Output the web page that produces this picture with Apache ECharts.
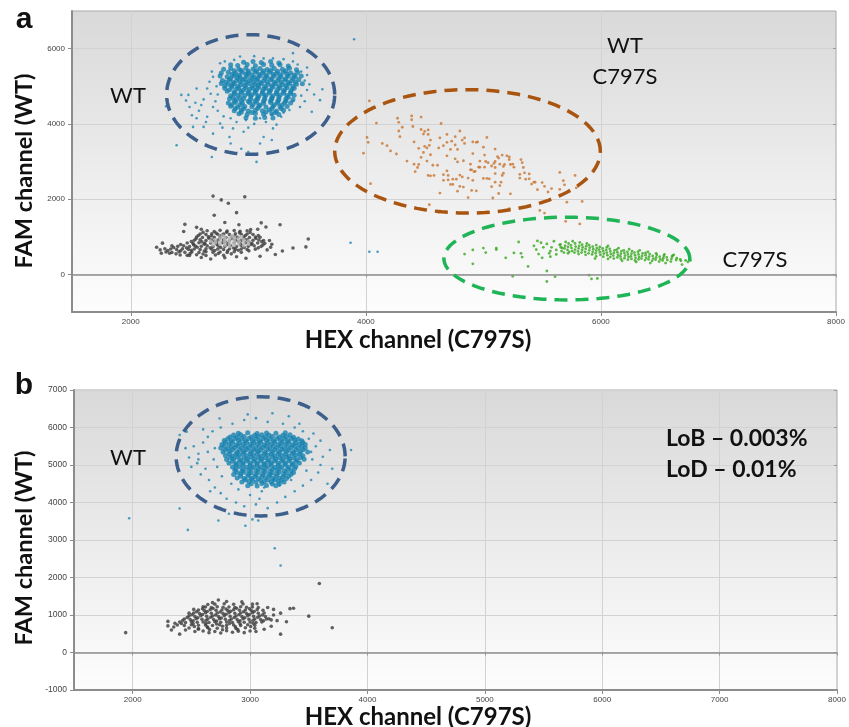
<!DOCTYPE html>
<html>
<head>
<meta charset="utf-8">
<script src="https://cdn.jsdelivr.net/npm/echarts@6/dist/echarts.min.js"></script>
<style>
  html, body { margin: 0; padding: 0; background: #fff; }
  #chart { width: 849px; height: 727px; }
</style>
</head>
<body>
<div id="chart"></div>
<script>
// ---- panel a : HEX (x) vs FAM (y) droplet amplitudes ----
const xTicksA = [2000, 4000, 6000, 8000];
const yTicksA = [0, 2000, 4000, 6000];
const xTicksB = [2000, 3000, 4000, 5000, 6000, 7000, 8000];

// WT droplets (blue), dense core
const wtCoreA = [
  [2960,5640],[3040,5660],[3110,5630],[3190,5655],[3260,5620],
  [2850,5570],[2910,5550],[2990,5575],[3060,5545],[3130,5580],[3200,5555],[3270,5570],[3340,5540],
  [2790,5450],[2850,5470],[2920,5455],[2980,5480],[3040,5450],[3100,5475],[3160,5445],[3220,5470],[3290,5455],[3350,5480],[3410,5440],
  [2770,5350],[2830,5375],[2890,5345],[2950,5370],[3000,5350],[3060,5380],[3120,5355],[3180,5370],[3240,5345],[3300,5375],[3360,5350],[3420,5365],
  [2760,5270],[2820,5250],[2880,5275],[2930,5255],[2990,5265],[3050,5245],[3100,5270],[3160,5250],[3220,5275],[3280,5255],[3340,5265],[3400,5250],[3450,5270],
  [2780,5150],[2840,5170],[2900,5155],[2950,5175],[3010,5150],[3070,5165],[3130,5145],[3190,5170],[3250,5155],[3310,5165],[3370,5150],[3430,5170],
  [2770,5070],[2830,5050],[2880,5065],[2940,5045],[3000,5070],[3060,5055],[3110,5075],[3170,5050],[3230,5065],[3290,5045],[3350,5070],[3410,5055],[3460,5065],
  [2800,4950],[2860,4975],[2920,4955],[2980,4970],[3040,4945],[3090,4965],[3150,4950],[3210,4975],[3270,4955],[3330,4970],[3390,4945],
  [2820,4870],[2880,4850],[2940,4865],[3000,4845],[3060,4870],[3120,4855],[3180,4875],[3240,4850],[3300,4865],[3360,4855],
  [2850,4750],[2910,4770],[2970,4755],[3030,4775],[3090,4750],[3150,4765],[3210,4745],[3270,4770],[3330,4755],[3390,4760],
  [2840,4670],[2900,4650],[2960,4665],[3020,4645],[3080,4670],[3140,4655],[3200,4660],[3260,4645],[3320,4665],[3380,4650],
  [2830,4555],[2890,4570],[2950,4550],[3010,4565],[3070,4575],[3130,4550],[3190,4565],[3250,4550],[3310,4570],[3360,4555],
  [2850,4470],[2910,4450],[2970,4465],[3030,4455],[3090,4470],[3150,4450],[3210,4465],[3270,4455],[3330,4460],
  [2880,4350],[2940,4370],[3000,4345],[3060,4365],[3120,4350],[3180,4370],[3240,4345],[3300,4360],
  [2920,4270],[2990,4250],[3060,4275],[3130,4255],[3200,4270],[3260,4250],
  [2980,4160],[3060,4150],[3140,4170],[3210,4155],
  [2880,5410],[2940,5420],[3000,5400],[3070,5415],[3130,5405],[3190,5420],[3250,5400],[3320,5415],
  [2860,5310],[2920,5300],[2980,5320],[3030,5305],[3090,5315],[3150,5300],[3210,5320],[3270,5305],[3330,5315],[3390,5300],
  [2850,5205],[2910,5220],[2970,5200],[3030,5215],[3080,5205],[3140,5220],[3200,5205],[3260,5215],[3320,5200],[3380,5215],
  [2810,5110],[2870,5100],[2930,5120],[2980,5105],[3040,5115],[3100,5100],[3160,5120],[3220,5105],[3280,5115],[3340,5100],[3400,5110],
  [2800,5005],[2860,5020],[2910,5000],[2970,5015],[3030,5005],[3080,5020],[3140,5000],[3200,5015],[3260,5005],[3320,5020],[3380,5000],
  [2840,4910],[2900,4920],[2960,4900],[3010,4915],[3070,4905],[3130,4920],[3190,4900],[3250,4915],[3310,4905],[3370,4915],
  [2880,4805],[2940,4820],[3000,4800],[3060,4815],[3120,4805],[3180,4820],[3240,4800],[3300,4815],[3360,4810],
  [2870,4710],[2930,4700],[3020,4720],[3080,4705],[3140,4715],[3200,4700],[3260,4710],[3340,4705],
  [2880,4610],[2940,4600],[3000,4600],[3060,4620],[3130,4605],[3190,4615],[3250,4600],[3320,4610],
  [2860,4510],[2930,4505],[3040,4515],[3100,4500],[3220,4510],[3290,4505],
  [2890,4410],[2960,4400],[3080,4415],[3200,4405],[3280,4410],
  [2940,4310],[3030,4300],[3150,4315],[3230,4305]
];
// WT droplets (blue), sparse
const wtHaloA = [
  [2390,3430],[2430,4770],[2490,4770],[2560,4940],[2500,4450],[2520,4230],[2600,4500],[2530,3920],[2620,3920],
  [2650,4190],[2690,3120],[2700,3740],[2760,4010],[2840,3650],[2870,3880],[2960,3790],[2940,3340],[3070,2990],
  [3000,3250],[3100,3480],[3130,3650],[3200,3570],[3210,3880],[3280,4190],[3350,4370],[3440,4450],[3540,4320],
  [3610,4630],[3630,4920],[3500,5300],[3450,5390],[3380,5660],[3380,5880],[3210,5740],[3130,5740],[2930,5790],
  [2800,5660],[2760,5610],[2690,5390],[2670,5120],[2650,4940],[3900,6250],[2300,4470],
  [2720,4600],[2740,4350],[2790,4200],[2850,4150],[2900,4050],[2980,4100],[3050,4000],[3100,4150],[3200,4250],
  [3300,4300],[3380,4600],[3450,4750],[3500,4900],[3520,5050],[3480,5150],[3500,5500],[3420,5580],[3300,5720],
  [3050,5800],[2880,5700],[2700,5250],[2680,4800],[2620,4650],[2580,4350],[2640,4050],[2780,3900],[2700,4450],
  [2740,4780],[2730,5000],[3000,3900],[3150,4050],[2560,4150],[3560,4780],[3480,4600],[3240,3980],[2850,3480],
  [2470,4620],[2550,4560],[3870,840],[4030,600],[4100,600]
];
// double negative droplets (black)
const negA = [
  [2650,1160],[2710,1140],[2760,1170],[2820,1150],[2880,1165],[2930,1145],[2990,1160],
  [2590,1075],[2640,1060],[2690,1080],[2740,1065],[2790,1075],[2840,1060],[2890,1080],[2940,1065],[2990,1075],[3040,1060],
  [2560,995],[2610,980],[2660,1000],[2710,985],[2760,995],[2810,980],[2860,1000],[2910,985],[2960,995],[3010,980],[3060,995],[3100,985],
  [2540,905],[2590,920],[2640,900],[2690,915],[2740,905],[2790,920],[2840,900],[2890,915],[2940,905],[2990,920],[3040,905],[3090,915],[3130,900],
  [2480,835],[2530,820],[2580,840],[2630,825],[2680,835],[2730,820],[2780,840],[2830,825],[2880,835],[2930,820],[2980,840],[3030,825],[3080,835],[3140,825],
  [2400,745],[2450,760],[2500,740],[2550,755],[2600,745],[2650,760],[2700,740],[2750,755],[2800,745],[2850,760],[2900,740],[2950,755],[3000,745],[3050,760],[3110,745],
  [2340,675],[2390,660],[2440,680],[2490,665],[2540,675],[2590,660],[2640,680],[2690,665],[2740,675],[2790,660],[2840,680],[2890,665],[2940,675],[2990,660],[3060,670],
  [2300,595],[2350,580],[2410,600],[2460,585],[2520,595],[2580,580],[2640,600],[2700,585],[2760,595],[2820,580],[2880,600],[2940,585],
  [2420,515],[2480,505],[2560,520],[2640,500],[2720,515],[2790,505],
  [2615,1115],[2725,1100],[2815,1120],[2925,1105],[3015,1115],[2575,1035],[2685,1025],[2775,1040],[2885,1020],[2975,1035],[3085,1030],
  [2555,945],[2665,960],[2755,940],[2865,955],[2965,945],[3065,955],[2515,875],[2605,865],[2715,880],[2805,860],[2915,875],[3005,865],[3115,870],
  [2425,795],[2535,785],[2625,800],[2735,785],[2825,795],[2935,780],[3025,795],[3125,785],[2365,715],[2475,705],[2565,720],[2675,705],
  [2765,715],[2875,700],[2965,715],[3085,705],[2315,635],[2425,625],[2515,640],[2625,620],[2715,635],[2825,625],[2915,640],[3005,625],
  [2385,545],[2505,555],[2615,540],[2745,555],[2855,545],
  [2700,2080],[2770,1980],[2830,1890],[2970,2060],[2710,1570],[2900,1640],[2800,1380],[2920,1320],[2460,1330],[2450,1140],
  [3110,1370],[3150,1260],[3270,1320],[3020,1190],[3510,940],[3490,730],[3380,700],[3290,620],[3230,530],[3190,720],
  [2270,830],[2250,650],[2290,680],[2980,430],[2680,410],[2500,500],[3180,900],[3200,800],[3160,650],[2350,760],
  [2330,560],[2600,1200],[2560,1250],[3080,1200],[3100,480],[2900,470],[2800,440],[2600,450],[2220,720],[2260,560]
];
// bright centre of the negative cloud
const negCoreA = [
  [2680,880],[2720,920],[2720,840],[2760,960],[2760,880],[2760,800],[2800,990],[2800,920],[2800,850],[2800,780],
  [2840,960],[2840,890],[2840,820],[2840,750],[2880,990],[2880,920],[2880,850],[2880,780],[2920,960],[2920,880],
  [2920,810],[2960,930],[2960,850],[2960,770],[3000,880],[3000,810],[2700,790],[2780,1020],[2860,1020],[2940,1000]
];
// WT + C797S droplets (orange)
const dpA = [
  [4030,4610],[4090,4020],[4010,3640],[4020,3510],[3980,3220],[4040,2410],[4140,3480],[4180,3420],[4210,3280],[4260,3200],
  [4270,4150],[4280,4040],[4310,3910],[4290,3660],[4280,3810],[4390,4210],[4390,4110],[4400,3930],[4470,4180],[4470,3850],
  [4500,3800],[4530,3840],[4490,3730],[4530,3720],[4550,3570],[4540,3430],[4500,3400],[4450,3350],[4470,3110],[4410,3520],
  [4350,3010],[4410,2930],[4450,2920],[4420,2730],[4440,2840],[4520,3010],[4530,2630],[4550,2620],[4570,2900],[4610,2900],
  [4630,3630],[4620,3360],[4640,4010],[4660,3420],[4690,3720],[4690,3510],[4690,3150],[4720,3320],[4730,3540],[4760,3660],
  [4760,3440],[4780,3320],[4800,3810],[4820,3570],[4840,3630],[4840,3480],[4830,3020],[4780,2990],[4760,3070],[4690,2750],
  [4660,2650],[4700,2630],[4740,2530],[4740,2390],[4770,2530],[4800,2640],[4820,2590],[4830,2320],[4870,2560],[4890,2930],
  [4890,2780],[4910,3520],[4950,3520],[4970,3010],[4970,2850],[4930,2740],[4910,3210],[5000,3380],[5030,3640],[5010,3170],
  [5040,2970],[5020,3000],[5070,2880],[5090,2950],[5100,3000],[5100,2840],[5100,3330],[5120,3130],[5130,3090],[5140,2930],
  [5160,3170],[5170,2870],[5180,2920],[5200,3150],[5220,3120],[5230,2920],[5250,2930],[5260,2850],[5220,3050],[5170,2690],
  [5160,2630],[5100,2680],[5100,2450],[5140,2360],[5150,2450],[5230,2140],[5130,2150],[5080,2030],[5050,2540],[5000,2550],
  [5030,2550],[5010,2850],[4960,2850],[4920,2730],[4900,2780],[4940,2220],[4900,2230],[4870,2040],[4780,2210],[4630,2160],
  [4540,1850],[4620,1650],[4580,2630],[4660,2500],[4700,2510],[4720,2390],[5320,3050],[5330,2970],[5340,2840],[5350,2700],
  [5310,2660],[5310,2560],[5360,2530],[5390,2670],[5390,2540],[5410,2400],[5430,2450],[5460,2250],[5440,2450],[5500,2440],
  [5520,2340],[5550,2190],[5580,2280],[5650,2710],[5680,2490],[5690,2380],[5650,2260],[5710,1920],[5780,2630],[5790,2300],
  [5840,1940],[5480,1700],[5520,1630],[5700,1410],[5820,1340],[5220,1750],[4940,3510],[4910,2500],[5070,2330],[4800,2340],
  [4550,3180],[4520,3360],[4490,3240]
];
// C797S droplets (green)
const mutA = [
  [5660,720],[5655,800],[5665,620],[5690,690],[5695,760],[5685,580],[5720,730],[5715,650],[5725,820],[5720,560],
  [5750,700],[5755,620],[5745,770],[5780,660],[5785,740],[5775,580],[5780,820],[5810,690],[5805,610],[5815,760],[5810,540],
  [5840,650],[5845,720],[5835,580],[5840,790],[5870,680],[5865,600],[5875,750],[5870,520],[5900,640],[5905,710],[5895,560],[5900,780],
  [5930,600],[5935,670],[5925,530],[5930,740],[5960,630],[5965,700],[5955,560],[5960,480],[5990,590],[5985,660],[5995,520],[5990,730],
  [6020,620],[6025,550],[6015,690],[6020,470],[6050,580],[6045,650],[6055,510],[6050,720],[6080,610],[6085,540],[6075,680],[6080,460],
  [6110,570],[6105,500],[6115,640],[6110,420],[6140,590],[6145,520],[6135,660],[6140,450],[6170,550],[6165,480],[6175,620],[6170,410],
  [6200,570],[6205,500],[6195,640],[6200,430],[6230,530],[6235,460],[6225,600],[6230,390],[6260,550],[6255,480],[6265,620],[6260,410],
  [6290,510],[6295,440],[6285,580],[6290,370],[6320,530],[6325,460],[6315,600],[6320,400],[6350,490],[6345,420],[6355,560],
  [6380,510],[6385,440],[6375,380],[6380,570],[6410,470],[6405,400],[6415,540],[6440,490],[6445,420],[6435,360],
  [6470,450],[6465,390],[6475,520],[6500,470],[6505,400],[6495,340],[6530,430],[6525,370],[6535,490],[6560,450],[6565,380],
  [6600,410],[6595,340],[6605,470],[6640,380],[6645,430],[6680,360],[6675,400],[6720,370],
  [5700,860],[5760,880],[5820,850],[5730,600],[5880,820],[5960,780],[6060,760],[6150,700],[6240,670],[6330,640],
  [6400,600],[6470,560],[6540,530],[6610,500],[5950,420],[6060,410],[6180,360],[6300,330],[6420,300],[6550,300],
  [4840,540],[4910,650],[4910,280],[5000,700],[5020,580],[5110,700],[5110,660],[5190,440],[5260,570],[5300,860],
  [5320,560],[5330,460],[5380,210],[5250,-50],[5540,90],[5540,-190],[5610,-60],[5900,-20],[5920,-120],[5970,-110],
  [5460,890],[5430,760],[5450,660],[5490,840],[5500,440],[5570,470],[5470,540],[5510,720],[5540,810],[5580,720],
  [5620,650],[5650,780],[5670,700],[5570,620],[5620,530],[6740,330],[6690,260],[6760,370],[6620,520],[5600,880],[5560,560]
];

// ---- panel b ----
const wtCoreB = [
  [2900,5850],[2980,5860],[3060,5840],[3140,5855],[3220,5845],[3300,5860],
  [2830,5750],[2890,5740],[2950,5760],[3010,5745],[3070,5755],[3130,5740],[3190,5760],[3250,5745],[3310,5755],[3370,5740],
  [2780,5655],[2840,5640],[2900,5660],[2960,5645],[3020,5655],[3080,5640],[3140,5660],[3200,5645],[3260,5655],[3320,5640],[3380,5660],[3440,5645],
  [2760,5545],[2820,5560],[2880,5540],[2940,5555],[3000,5545],[3060,5560],[3120,5540],[3180,5555],[3240,5545],[3300,5560],[3360,5540],[3420,5555],[3470,5545],
  [2750,5455],[2810,5440],[2870,5460],[2930,5445],[2990,5455],[3050,5440],[3110,5460],[3170,5445],[3230,5455],[3290,5440],[3350,5460],[3410,5445],[3470,5455],
  [2770,5345],[2830,5360],[2890,5340],[2950,5355],[3010,5345],[3070,5360],[3130,5340],[3190,5355],[3250,5345],[3310,5360],[3370,5340],[3430,5355],[3490,5345],
  [2790,5255],[2850,5240],[2910,5260],[2970,5245],[3030,5255],[3090,5240],[3150,5260],[3210,5245],[3270,5255],[3330,5240],[3390,5260],[3450,5245],
  [2800,5145],[2860,5160],[2920,5140],[2980,5155],[3040,5145],[3100,5160],[3160,5140],[3220,5155],[3280,5145],[3340,5160],[3400,5140],[3460,5155],
  [2820,5055],[2880,5040],[2940,5060],[3000,5045],[3060,5055],[3120,5040],[3180,5060],[3240,5045],[3300,5055],[3360,5040],[3420,5055],
  [2850,4945],[2910,4960],[2970,4940],[3030,4955],[3090,4945],[3150,4960],[3210,4940],[3270,4955],[3330,4945],[3390,4960],
  [2870,4855],[2930,4840],[2990,4860],[3050,4845],[3110,4855],[3170,4840],[3230,4860],[3290,4845],[3350,4855],
  [2860,4745],[2920,4760],[2990,4760],[3050,4740],[3110,4755],[3170,4745],[3230,4760],[3290,4745],[3350,4755],
  [2890,4655],[2950,4640],[3010,4650],[3070,4640],[3130,4660],[3190,4645],[3250,4655],[3310,4640],
  [2930,4550],[2990,4560],[3050,4545],[3120,4555],[3180,4545],[3240,4560],[3290,4550],
  [2980,4450],[3060,4440],[3140,4455],[3220,4445],
  [2860,5800],[2920,5805],[3040,5795],[3100,5810],[3160,5800],[3280,5795],[3340,5805],
  [2810,5700],[2870,5710],[2930,5695],[2990,5705],[3050,5700],[3110,5710],[3170,5695],[3230,5705],[3290,5700],[3350,5710],[3410,5695],
  [2790,5600],[2850,5610],[2910,5595],[2970,5605],[3030,5600],[3090,5610],[3150,5595],[3210,5605],[3270,5600],[3330,5610],[3390,5595],[3450,5600],
  [2780,5500],[2840,5495],[2900,5510],[2960,5500],[3020,5505],[3080,5495],[3140,5510],[3200,5500],[3260,5505],[3320,5495],[3380,5510],[3440,5500],
  [2790,5400],[2850,5405],[2910,5395],[2970,5410],[3030,5400],[3090,5395],[3150,5405],[3210,5400],[3270,5410],[3330,5395],[3390,5400],[3450,5405],
  [2820,5300],[2880,5295],[2940,5305],[3000,5300],[3060,5310],[3120,5295],[3180,5300],[3240,5305],[3300,5295],[3360,5310],[3420,5300],
  [2830,5200],[2890,5205],[2950,5195],[3010,5210],[3070,5200],[3130,5195],[3190,5205],[3250,5200],[3310,5210],[3370,5195],[3430,5200],
  [2850,5100],[2910,5095],[2970,5110],[3030,5100],[3090,5105],[3150,5095],[3210,5110],[3270,5100],[3330,5105],[3390,5095],
  [2880,5000],[2940,5010],[3000,4995],[3060,5005],[3120,5000],[3180,5010],[3240,4995],[3300,5005],[3360,5000],
  [2880,4900],[2940,4895],[3010,4910],[3070,4900],[3130,4905],[3190,4895],[3250,4910],[3320,4900],[3380,4905],
  [2890,4800],[2950,4805],[3010,4795],[3070,4800],[3130,4810],[3190,4795],[3250,4805],[3310,4800],[3370,4800],
  [2920,4700],[2980,4705],[3040,4695],[3100,4700],[3160,4710],[3220,4700],[3280,4695],[3330,4700],
  [2960,4600],[3020,4605],[3090,4595],[3150,4600],[3210,4605],[3270,4600],
  [3010,4500],[3100,4505],[3190,4495],[3250,4500]
];
const wtHaloB = [
  [1970,3580],[2400,3840],[2470,3270],[2730,3520],[2960,3380],[3020,3550],[3860,5400],[3620,5220],[3540,5840],[3190,6380],
  [2740,6240],[2400,5800],[2460,5890],[3210,2780],[3260,2320],
  [2520,5500],[2560,5300],[2600,5600],[2480,5200],[2550,5050],[2620,4900],[2580,4750],[2650,4600],[2700,4400],[2750,4250],
  [2800,4100],[2880,4000],[2950,3900],[3050,3950],[3150,3850],[3230,4000],[3300,4150],[3380,4300],[3450,4450],[3520,4600],
  [3580,4800],[3600,5000],[3560,5500],[3500,5700],[3450,5900],[3380,6000],[3280,6100],[3150,6150],[3050,6250],[2950,6200],
  [2850,6100],[2750,6000],[2680,5900],[2640,5750],[2700,5450],[2690,5150],[2720,4950],[2760,4700],[2840,4500],[2900,4350],
  [3000,4200],[3080,4100],[3120,4400],[3250,4450],[3350,4600],[3480,4850],[3530,5150],[3520,5350],[3600,5650],[3680,5400],
  [2600,5950],[2560,5150],[2640,5350],[2660,4300],[2820,3700],[3070,3520],[3100,4300],[3200,4600],[2980,6350],[3330,6300],
  [3420,6100],[2450,5450],[2500,4950],[3700,4900],[3660,4500]
];
const negB = [
  [2700,1290],[2780,1300],[2860,1285],[2940,1295],[3020,1290],
  [2620,1215],[2670,1200],[2720,1220],[2770,1205],[2820,1215],[2870,1200],[2920,1220],[2970,1205],[3020,1215],[3070,1200],
  [2560,1135],[2610,1120],[2660,1140],[2710,1125],[2760,1135],[2810,1120],[2860,1140],[2910,1125],[2960,1135],[3010,1120],[3060,1140],[3110,1125],
  [2520,1055],[2570,1040],[2620,1060],[2670,1045],[2720,1055],[2770,1040],[2820,1060],[2870,1045],[2920,1055],[2970,1040],[3020,1060],[3070,1045],[3120,1055],
  [2480,975],[2530,960],[2580,980],[2630,965],[2680,975],[2730,960],[2780,980],[2830,965],[2880,975],[2930,960],[2980,980],[3030,965],[3080,975],[3130,960],
  [2440,895],[2490,880],[2540,900],[2590,885],[2640,895],[2690,880],[2740,900],[2790,885],[2840,895],[2890,880],[2940,900],[2990,885],[3040,895],[3090,880],[3140,895],
  [2400,815],[2450,800],[2500,820],[2550,805],[2600,815],[2650,800],[2700,820],[2750,805],[2800,815],[2850,800],[2900,820],[2950,805],[3000,815],[3050,800],[3100,815],
  [2380,735],[2440,720],[2500,740],[2560,725],[2620,735],[2680,720],[2740,740],[2800,725],[2860,735],[2920,720],[2980,740],[3040,725],
  [2480,655],[2560,640],[2640,660],[2720,645],[2800,655],[2880,640],[2960,660],[3040,645],
  [2600,575],[2700,560],[2800,580],[2900,565],[3000,575],
  [2595,1165],[2685,1175],[2795,1160],[2885,1180],[2995,1165],[2545,1085],[2635,1095],[2745,1080],[2835,1100],[2945,1085],[3035,1095],
  [2505,1005],[2595,1015],[2705,1000],[2795,1020],[2905,1005],[2995,1015],[3105,1000],[2465,935],[2555,925],[2665,940],[2755,920],
  [2865,935],[2955,925],[3065,940],[2425,855],[2515,845],[2625,860],[2715,840],[2825,855],[2915,845],[3025,860],[3115,845],
  [2415,775],[2515,765],[2625,780],[2715,760],[2825,775],[2915,765],[3025,780],[2525,695],[2635,685],[2765,700],[2875,685],[3005,695],
  [2655,615],[2765,605],[2895,615],
  [2300,710],[2400,490],[2360,780],[2600,1220],[2680,1330],[2730,1400],[2930,1350],[3160,900],[3180,870],[3260,1050],
  [3310,820],[3340,1170],[3370,1180],[3500,970],[3700,660],[3260,490],[3590,1840],[1940,530],[2330,600],[2300,830],
  [2350,680],[2450,600],[2530,560],[3150,1200],[3200,1000],[3180,700],[3120,620],[3050,560],[2950,530],[2850,540],
  [2750,520],[2650,530],[2560,620],[2480,1050],[2520,1150],[2640,1280],[2800,1360],[3060,1300],[3200,1150],[3230,850]
];

// dashed cluster gates: centre and radii in data units
const gatesA = [
  { c: [3020, 4780], r: [715, 1590], color: '#3d5f8b' },
  { c: [4865, 3270], r: [1130, 1640], color: '#a9540f' },
  { c: [5710, 420], r: [1046, 1100], color: '#1fb455' }
];
const gatesB = [
  { c: [3090, 5230], r: [720, 1590], color: '#3d5f8b' }
];

const chart = echarts.init(document.getElementById('chart'));

const FONT = 'Lato, "Open Sans", sans-serif';
const bg = () => new echarts.graphic.LinearGradient(0, 0, 0, 1, [
  { offset: 0, color: '#d9d9d9' },
  { offset: 1, color: '#fdfdfd' }
]);
const plain = v => String(v);

function bottomX(grid, ticks) {
  return {
    type: 'value', gridIndex: grid, min: 1500, max: 8000, interval: 500,
    axisLine: { onZero: false, lineStyle: { color: '#8c8c8c', width: 2 } },
    axisTick: { show: true, length: 4, customValues: ticks, lineStyle: { color: '#8c8c8c' } },
    axisLabel: { customValues: ticks, formatter: plain, margin: 6, fontSize: 8, color: '#444', fontFamily: 'Liberation Sans' },
    splitLine: { show: true, lineStyle: { color: '#d2d2d2', width: 1 } }
  };
}
function topX(grid, ticks) {
  return {
    type: 'value', gridIndex: grid, position: 'top', min: 1500, max: 8000, interval: 500,
    axisLine: { show: false },
    axisTick: { show: true, inside: true, length: 3, customValues: ticks, lineStyle: { color: '#999' } },
    axisLabel: { show: false }, splitLine: { show: false }
  };
}
function leftY(grid, ticks, size) {
  return {
    type: 'value', gridIndex: grid, min: -1000, max: 7000, interval: 1000,
    axisLine: { show: true, onZero: false, lineStyle: { color: '#8c8c8c', width: 2 } },
    axisTick: { show: true, length: 4, customValues: ticks, lineStyle: { color: '#8c8c8c' } },
    axisLabel: { customValues: ticks, formatter: plain, margin: 7, fontSize: size, color: '#444', fontFamily: 'Liberation Sans' },
    splitLine: { show: true, lineStyle: { color: '#d2d2d2', width: 1 } }
  };
}
function rightY(grid, ticks) {
  return {
    type: 'value', gridIndex: grid, position: 'right', min: -1000, max: 7000, interval: 1000,
    axisLine: { show: false },
    axisTick: { show: true, inside: true, length: 3, customValues: ticks, lineStyle: { color: '#999' } },
    axisLabel: { show: false }, splitLine: { show: false }
  };
}

function dots(data, xi, yi, color, size, z) {
  return {
    type: 'scatter', xAxisIndex: xi, yAxisIndex: yi, data: data,
    symbol: 'circle', symbolSize: size, silent: true, z: z || 2,
    itemStyle: { color: color }
  };
}
function zeroLine(xi, yi) {
  return {
    type: 'scatter', xAxisIndex: xi, yAxisIndex: yi, data: [], silent: true,
    markLine: {
      silent: true, symbol: ['none', 'none'], label: { show: false },
      lineStyle: { color: '#8f8f8f', width: 1.5, type: 'solid' },
      data: [{ yAxis: 0 }]
    }
  };
}
function gates(list, xi, yi) {
  return {
    type: 'custom', xAxisIndex: xi, yAxisIndex: yi, silent: true, z: 5,
    data: list.map(g => [g.c[0], g.c[1], g.r[0], g.r[1]]),
    renderItem: (params, api) => {
      const cx = api.value(0), cy = api.value(1), rx = api.value(2), ry = api.value(3);
      const pts = [];
      for (let i = 0; i <= 96; i++) {
        const t = i / 96 * Math.PI * 2;
        pts.push(api.coord([cx + rx * Math.cos(t), cy + ry * Math.sin(t)]));
      }
      return {
        type: 'polygon', shape: { points: pts },
        style: { fill: 'none', stroke: list[params.dataIndex].color, lineWidth: 3.5, lineDash: [13, 8] }
      };
    }
  };
}

function txt(text, x, y, font, align, rot) {
  return {
    type: 'text', x: x, y: y, rotation: rot || 0, z: 10,
    style: { text: text, x: 0, y: 0, font: font, fill: '#111',
             textAlign: align || 'center', textVerticalAlign: 'middle' }
  };
}

chart.setOption({
  animation: false,
  grid: [
    { left: 72, top: 11, width: 764, height: 301, show: true, backgroundColor: bg(), borderColor: '#aaa', borderWidth: 1 },
    { left: 74, top: 390, width: 763, height: 300, show: true, backgroundColor: bg(), borderColor: '#aaa', borderWidth: 1 }
  ],
  xAxis: [bottomX(0, xTicksA), topX(0, xTicksA), bottomX(1, xTicksB), topX(1, xTicksB)],
  yAxis: [leftY(0, yTicksA, 8), rightY(0, yTicksA), leftY(1, null, 8.5), rightY(1, null)],
  series: [
    zeroLine(0, 0),
    dots(negA, 0, 0, '#3b3b3b', 3.6),
    dots(negCoreA, 0, 0, '#b9b9b9', 4, 3),
    dots(wtHaloA, 0, 0, '#1b86b4', 2.6),
    dots(wtCoreA, 0, 0, '#1682b0', 5),
    dots(dpA, 0, 0, '#c8742f', 2.8),
    dots(mutA, 0, 0, '#34a81c', 2.8),
    gates(gatesA, 0, 0),
    zeroLine(2, 2),
    dots(negB, 2, 2, '#3b3b3b', 3.6),
    dots(wtHaloB, 2, 2, '#1b86b4', 2.6),
    dots(wtCoreB, 2, 2, '#1682b0', 5),
    gates(gatesB, 2, 2)
  ],
  graphic: [
    txt('a', 24, 20, 'bold 30px "Liberation Sans", Arial'),
    txt('b', 24, 386, 'bold 30px "Liberation Sans", Arial'),
    txt('WT', 128, 96, '22px ' + FONT),
    txt('WT', 625, 46, '22px ' + FONT),
    txt('C797S', 625, 77, '22px ' + FONT),
    txt('C797S', 755, 260, '22px ' + FONT),
    txt('HEX channel (C797S)', 418, 340, 'bold 24px ' + FONT),
    txt('FAM channel (WT)', 24, 171, 'bold 23.5px ' + FONT, 'center', Math.PI / 2),
    txt('WT', 128, 458, '22px ' + FONT),
    txt('LoB \u2013 0.003%', 666, 439, 'bold 23px ' + FONT, 'left'),
    txt('LoD \u2013 0.01%', 666, 470, 'bold 23px ' + FONT, 'left'),
    txt('HEX channel (C797S)', 418, 717, 'bold 24px ' + FONT),
    txt('FAM channel (WT)', 24, 548, 'bold 23.5px ' + FONT, 'center', Math.PI / 2)
  ]
});
</script>
</body>
</html>
